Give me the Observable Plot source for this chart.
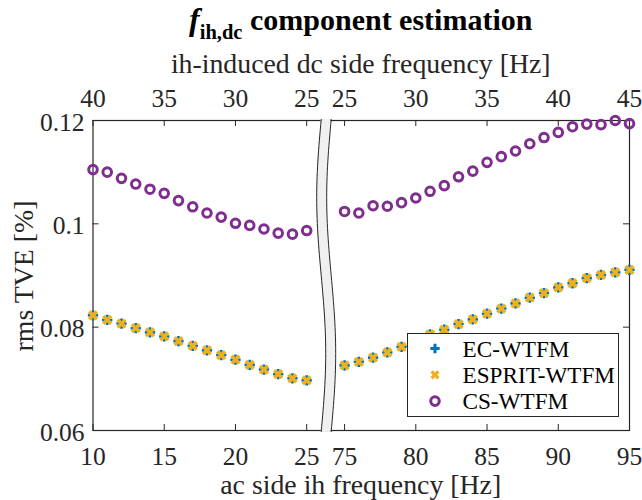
<!DOCTYPE html>
<html><head><meta charset="utf-8">
<script src="https://cdn.jsdelivr.net/npm/d3@7"></script>
<script src="https://cdn.jsdelivr.net/npm/@observablehq/plot@0.6"></script>
<style>
body{margin:0;background:#fff;}
#wrap{position:relative;width:642px;height:500px;font-family:"Liberation Serif";color:#262626;}
#wrap svg{overflow:visible;}
#overlay{position:absolute;left:0;top:0;}
</style></head><body>
<div id="wrap"></div>
<script>
// ---- data ----
const acLeft  = [10,11,12,13,14,15,16,17,18,19,20,21,22,23,24,25];
const acRight = [75,76,77,78,79,80,81,82,83,84,85,86,87,88,89,90,91,92,93,94,95];
const ecLeft  = [0.0823,0.0814,0.0807,0.0798,0.0790,0.0782,0.0773,0.0764,0.0755,0.0746,0.0737,0.0727,0.0718,0.0709,0.0701,0.0697];
const ecRight = [0.0726,0.0733,0.0741,0.0751,0.0762,0.0773,0.0786,0.0795,0.0806,0.0815,0.0826,0.0836,0.0846,0.0857,0.0866,0.0877,0.0885,0.0895,0.0901,0.0906,0.0911];
const espritLeft  = [0.0823,0.0814,0.0807,0.0798,0.0790,0.0782,0.0773,0.0764,0.0755,0.0746,0.0737,0.0727,0.0718,0.0709,0.0701,0.0697];
const espritRight = [0.0726,0.0733,0.0741,0.0751,0.0762,0.0773,0.0786,0.0795,0.0806,0.0815,0.0826,0.0836,0.0846,0.0857,0.0866,0.0877,0.0885,0.0895,0.0901,0.0906,0.0911];
const csLeft  = [0.1105,0.1100,0.1088,0.1077,0.1067,0.1059,0.1045,0.1033,0.1021,0.1013,0.1001,0.0997,0.0990,0.0982,0.0980,0.0987];
const csRight = [0.1024,0.1021,0.1035,0.1034,0.1041,0.1050,0.1063,0.1074,0.1091,0.1102,0.1119,0.1130,0.1141,0.1155,0.1167,0.1177,0.1188,0.1193,0.1192,0.1200,0.1194];
const bottomTicks = [10,15,20,25,75,80,85,90,95];
const topTickLabels = ["40","35","30","25","25","30","35","40","45"];
const yTicks = [0.06,0.08,0.1,0.12];
const yTickLabels = ["0.06","0.08","0.1","0.12"];
const seriesNames = ["EC-WTFM","ESPRIT-WTFM","CS-WTFM"];
const colors = ["#0072BD","#EDB120","#7E2F8E"];
const titleMain = "component estimation";
const titleSym = "f", titleSub = "ih,dc";
const xTopLabel = "ih-induced dc side frequency [Hz]";
const xBottomLabel = "ac side ih frequency [Hz]";
const yLabel = "rms TVE [%]";

// ---- layout helpers ----
const FONT = "Liberation Serif";
const breakShift = 47.34;            // right panel shift in x units
const u = f => f > 50 ? f - breakShift : f;
const breakCenter = 26.37, breakHalf = 0.35, breakAmp = 0.316;

const mk = (xs, ys) => xs.map((f,i) => ({x: u(f), y: ys[i]}));
const ec = mk(acLeft.concat(acRight), ecLeft.concat(ecRight));
const esprit = mk(acLeft.concat(acRight), espritLeft.concat(espritRight));
const cs = mk(acLeft.concat(acRight), csLeft.concat(csRight));

const tickU = bottomTicks.map(u);
const botMap = new Map(tickU.map((d,i)=>[d, String(bottomTicks[i])]));
const topMap = new Map(tickU.map((d,i)=>[d, topTickLabels[i]]));
const yMap = new Map(yTicks.map((d,i)=>[d, yTickLabels[i]]));

const breakPts = d3.range(0, 61).map(k => {
  const t = k/60;
  const y = 0.1202 - t*0.0604;
  const c = breakCenter - breakAmp*Math.sin(2*Math.PI*t);
  return {y, l: c - breakHalf, r: c + breakHalf};
});

const W = 642, H = 500, mL = 92.5, mR = 13, mT = 120, mB = 70;
const innerW = W - mL - mR, innerH = H - mT - mB, tl = 6;
const rPlus = 3.4, rTimes = 3.6, rCirc = 4.3;

const chart = Plot.plot({
  width: W, height: H,
  marginLeft: mL, marginRight: mR, marginTop: mT, marginBottom: mB,
  style: {fontFamily: FONT, fontSize: "25px", color: "#262626", background: "white", overflow: "visible"},
  x: {domain: [10, 95 - breakShift]},
  y: {domain: [0.06, 0.12]},
  marks: [
    Plot.frame({stroke: "#262626", strokeWidth: 1.2}),
    Plot.tickX(tickU, {x: d=>d, insetTop: innerH - tl, stroke: "#262626"}),
    Plot.tickX(tickU, {x: d=>d, insetBottom: innerH - tl, stroke: "#262626"}),
    Plot.tickY(yTicks, {y: d=>d, insetRight: innerW - tl, stroke: "#262626"}),
    Plot.tickY(yTicks, {y: d=>d, insetLeft: innerW - tl, stroke: "#262626"}),
    Plot.axisX({anchor: "bottom", ticks: tickU, tickFormat: d=>botMap.get(d), tickSize: 0, tickPadding: 16, label: null, fontFamily: FONT, fontSize: 25.5}),
    Plot.axisX({anchor: "top", ticks: tickU, tickFormat: d=>topMap.get(d), tickSize: 0, tickPadding: 14, label: null, fontFamily: FONT, fontSize: 25.5}),
    Plot.axisY({ticks: yTicks, tickFormat: d=>yMap.get(d), tickSize: 0, tickPadding: 8.5, label: null, dy: 2, fontFamily: FONT, fontSize: 25.5}),
    Plot.dot(ec, {x: "x", y: "y", symbol: "plus", r: rPlus, stroke: colors[0], strokeWidth: 2.6}),
    Plot.dot(esprit, {x: "x", y: "y", symbol: "times", r: rTimes, stroke: colors[1], strokeWidth: 3.6}),
    Plot.dot(cs, {x: "x", y: "y", symbol: "circle", r: rCirc, stroke: colors[2], strokeWidth: 3}),
    Plot.areaX(breakPts, {y: "y", x1: "l", x2: "r", fill: "#f0f0f0"}),
    Plot.line(breakPts, {x: "l", y: "y", stroke: "#262626", strokeWidth: 1}),
    Plot.line(breakPts, {x: "r", y: "y", stroke: "#262626", strokeWidth: 1})
  ]
});
const wrap = document.getElementById("wrap");
wrap.appendChild(chart);

// ---- overlay: titles and legend ----
const ov = d3.select(wrap).append("svg").attr("id", "overlay").attr("width", W).attr("height", H)
  .attr("font-family", FONT).style("pointer-events", "none");
const cx = mL + innerW/2;
const t = ov.append("text").attr("x", cx).attr("y", 30).attr("text-anchor", "middle")
  .attr("font-weight", "bold").attr("font-size", 30).attr("fill", "#000");
t.append("tspan").attr("font-style", "italic").attr("font-size", 32).text(titleSym);
t.append("tspan").attr("font-size", 20.5).attr("dy", 9).text(titleSub);
t.append("tspan").attr("dy", -9).text("\u00a0" + titleMain);
ov.append("text").attr("x", cx).attr("y", 73).attr("text-anchor", "middle").attr("font-size", 27.8)
  .attr("fill", "#262626").text(xTopLabel);
ov.append("text").attr("x", cx).attr("y", 494).attr("text-anchor", "middle").attr("font-size", 27.8)
  .attr("fill", "#262626").text(xBottomLabel);
ov.append("text").attr("transform", "translate(33,276) rotate(-90)").attr("text-anchor", "middle")
  .attr("font-size", 27.8).attr("fill", "#262626").text(yLabel);

const lg = ov.append("g").attr("transform", "translate(407,333)");
lg.append("rect").attr("x", 0.5).attr("y", 0.5).attr("width", 211).attr("height", 83)
  .attr("fill", "white").attr("stroke", "#262626").attr("stroke-width", 1);
const symTypes = [d3.symbolPlus, d3.symbolTimes, d3.symbolCircle];
const symSizes = [Math.PI*3.1*3.1, Math.PI*3.2*3.2, Math.PI*rCirc*rCirc];
const symW = [3, 3.4, 3];
seriesNames.forEach((name, i) => {
  const cy = 15.5 + i*26.3;
  lg.append("path").attr("d", d3.symbol(symTypes[i], symSizes[i])())
    .attr("transform", `translate(28,${cy})`).attr("fill", "none")
    .attr("stroke", colors[i]).attr("stroke-width", symW[i]);
  lg.append("text").attr("x", 55.5).attr("y", cy + 8).text(name)
    .attr("font-size", 23.2).attr("fill", "#000");
});
</script>
</body></html>
